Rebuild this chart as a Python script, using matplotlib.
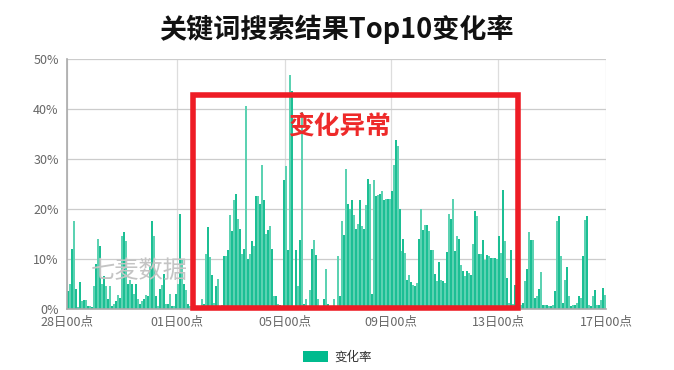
import numpy as np
import matplotlib
matplotlib.use('Agg')
import matplotlib.pyplot as plt
from matplotlib.patches import Rectangle, Patch

plt.rcParams['font.family'] = ['Noto Sans CJK SC', 'DejaVu Sans']

# 变化率 (%)，按时间顺序
rate = [
    3.5, 5, 12, 17.6, 4, 0.3, 5.3, 1.5, 1.7, 1.7,
    0.5, 0.5, 0.3, 4.5, 9, 14, 12.5, 5, 6.5, 4.5,
    2, 4.5, 0.5, 1, 1.5, 2.8, 2.2, 14.5, 15.3, 13.5,
    5, 5.8, 5, 3, 5, 2, 1, 1.5, 2, 2.8,
    2.5, 8.5, 17.5, 14.5, 2.5, 0.5, 4, 4.8, 7, 1,
    1, 3, 0.5, 0.5, 3, 5, 19, 10, 5, 3.8,
    1, 0.5, 0.3, 0.3, 0.3, 0.3, 0.5, 2, 1, 11,
    16.3, 10.3, 6.8, 1.2, 4.5, 6, 0.5, 0.8, 10.5, 10.6,
    11.8, 18.8, 15.5, 21.8, 23, 18, 16, 11, 12, 40.5,
    10, 11, 13.5, 12.5, 22.5, 22.5, 21, 28.8, 21.8, 15,
    15.8, 16.6, 12, 2.5, 2.5, 1, 0.8, 0.5, 25.8, 28.5,
    11.8, 46.8, 43.5, 0.5, 11.8, 4.5, 13.8, 39.3, 1, 2,
    0.5, 3.8, 12, 13.8, 10.8, 2, 0.5, 0.2, 2, 8,
    1, 0.3, 0.5, 2, 0.3, 10.5, 2.5, 17.5, 14.8, 28,
    21, 20, 21.8, 18.8, 16, 17, 21.8, 16.5, 16, 20.8,
    26, 25, 3, 25.8, 22.5, 22.8, 23, 23.5, 21.8, 22,
    22, 22, 23.5, 28.8, 33.8, 32.5, 20, 11.5, 14, 11.2,
    5.8, 6.8, 5.3, 4.8, 4.5, 5.1, 14, 20, 15.8, 16.8,
    16.8, 15.5, 11.8, 11.8, 7, 5.5, 9.3, 5.8, 5.5, 5.1,
    11.3, 19, 18, 22, 11.5, 14.5, 14, 8.8, 7.5, 6.5,
    7.5, 7.1, 6.8, 13, 19.5, 18.5, 11, 11, 13.8, 9.8,
    10.8, 10.5, 10.1, 10.2, 10.2, 10, 14.5, 11.1, 23.8, 13.5,
    6.1, 1.1, 11.8, 1, 4.8, 0.5, 0.3, 0.8, 1.1, 5.5,
    8, 15.3, 13.8, 13.8, 2.1, 2.5, 4, 7.3, 0.8, 0.8,
    0.8, 0.5, 0.5, 0.8, 3.5, 17.5, 18.5, 10.5, 1.1, 5.8,
    8.3, 2.5, 0.5, 0.8, 0.8, 1.1, 2.5, 2.1, 10.5, 17.8,
    18.5, 0.8, 0.5, 2.5, 3.8, 0.8, 0.8, 1.8, 4.1, 2.8,
]
tick_pos = [-0.5, 54.5, 108.5, 161.5, 215.5, 269.5]
tick_labels = ['28日00点', '01日00点', '05日00点', '09日00点', '13日00点', '17日00点']
y_ticks = [0, 10, 20, 30, 40, 50]

x = np.arange(len(rate))
# 细柱抗锯齿后的深浅交替
colors = ['#1cbf94' if i % 2 == 0 else '#5cd2b2' for i in x]

fig = plt.figure(figsize=(6.74, 3.70), dpi=100)
ax = fig.add_axes([0.0994, 0.1649, 0.8, 0.6757])
ax.set_axisbelow(True)

ax.bar(x, rate, width=1.0, color=colors, edgecolor='none', linewidth=0, zorder=2)

ax.set_xlim(-0.5, len(rate) - 0.5)
ax.set_ylim(0, 50)
ax.set_yticks(y_ticks)
ax.set_yticklabels([f'{v}%' for v in y_ticks])
ax.set_xticks(tick_pos)
ax.set_xticklabels(tick_labels)
ax.tick_params(axis='both', length=0, labelsize=9, labelcolor='#666666')
ax.tick_params(axis='y', pad=6)
ax.tick_params(axis='x', pad=5)

ax.grid(axis='y', color='#cccccc', linewidth=0.9)
ax.grid(axis='x', color='#dddddd', linewidth=0.9)
for s in ['top', 'right']:
    ax.spines[s].set_visible(False)
ax.spines['left'].set_color('#aaaaaa')
ax.spines['left'].set_linewidth(1.2)
ax.spines['bottom'].set_color('#aaaaaa')
ax.spines['bottom'].set_linewidth(1.2)

# 水印
ax.text(0.134, 0.152, '七麦数据', transform=ax.transAxes, fontsize=17.5,
        color='#c4c4c4', ha='center', va='center', zorder=3)

# 异常区域标注
ax.add_patch(Rectangle((0.2328, 0.004), 0.603, 0.851, transform=ax.transAxes,
                       fill=False, edgecolor='#ee1c25', linewidth=4, zorder=4,
                       clip_on=False))
ax.text(0.506, 0.726, '变化异常', transform=ax.transAxes, fontsize=18.5,
        fontweight='bold', color='#ee2a2a', ha='center', va='center', zorder=5)

fig.text(0.5, 0.922, '关键词搜索结果Top10变化率', fontsize=19.5, fontweight='bold',
         ha='center', va='center', color='#111111')

fig.legend(handles=[Patch(facecolor='#00bb8e', edgecolor='none', label='变化率')],
           loc='center', bbox_to_anchor=(0.5, 0.035), frameon=False,
           fontsize=9, handlelength=2.0, handleheight=1.0, handletextpad=0.5,
           labelcolor='#333333')

fig.savefig('out.png', dpi=100)
